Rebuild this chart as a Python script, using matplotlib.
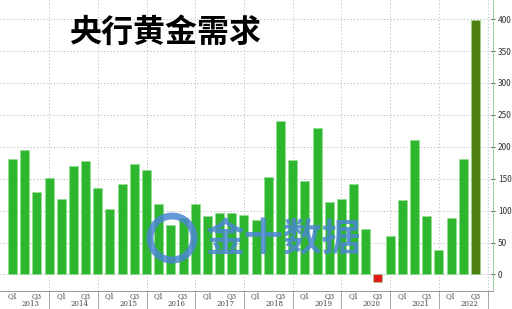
import matplotlib
matplotlib.use("Agg")
import matplotlib.pyplot as plt
import matplotlib.transforms as mtransforms
from matplotlib.patches import Ellipse
import numpy as np

plt.rcParams['font.family'] = ['Noto Sans CJK SC', 'DejaVu Sans']

# quarterly central bank gold demand (tonnes), 2013 Q1 .. 2022 Q3
years = ['2013', '2014', '2015', '2016', '2017', '2018', '2019', '2020', '2021', '2022']
demand = [181, 195, 129, 151,
          119, 170, 178, 136,
          103, 142, 173, 163,
          110, 78, 89, 110,
          91, 96, 96, 93,
          85, 153, 241, 179,
          146, 229, 114, 118,
          141, 72, -12, 61,
          116, 211, 91, 38,
          89, 181, 399]
y_ticks = [0, 50, 100, 150, 200, 250, 300, 350, 400]

green = '#2fb62f'
dark_green = '#4e7d10'
red = '#e21a1a'

x = np.arange(len(demand))
colors = []
for i, v in enumerate(demand):
    if v < 0:
        colors.append(red)
    elif i == len(demand) - 1:
        colors.append(dark_green)
    else:
        colors.append(green)

fig = plt.figure(figsize=(5.12, 3.09), dpi=100)
ax = fig.add_axes([0.0, 0.058, 0.963, 0.942])

ax.bar(x, demand, width=0.74, color=colors, edgecolor='#8fe08f', linewidth=0.4, zorder=3)

ax.set_xlim(-1.03, 39.45)
ax.set_ylim(-26, 430)

# y axis on the right
ax.yaxis.tick_right()
ax.set_yticks(y_ticks)
ax.tick_params(axis='y', labelsize=6, colors='#333333', length=3, width=0.6,
               pad=2, direction='inout')
for t in ax.yaxis.get_ticklines():
    t.set_color('#6fbf6f')
ax.grid(axis='y', linestyle=(0, (1.5, 2.5)), color='#b0b0b0', linewidth=0.6, zorder=0)

# year separators as vertical grid lines
sep = [i * 4 + 3 for i in range(len(years))]
for s in sep:
    ax.axvline(s, linestyle=(0, (1.5, 2.5)), color='#b8b8b8', linewidth=0.6, zorder=0)

# quarter labels
qpos, qlab = [], []
for i in range(len(years)):
    for q in (0, 2):
        if i * 4 + q < len(demand):
            qpos.append(i * 4 + q)
            qlab.append('Q%d' % (q + 1))
ax.set_xticks(qpos)
ax.set_xticklabels(qlab, fontsize=5, color='#444444', family='DejaVu Serif')
ax.tick_params(axis='x', length=0, pad=1)

trans = mtransforms.blended_transform_factory(ax.transData, ax.transAxes)
for i, yr in enumerate(years):
    ax.text(i * 4 + 1.5, -0.031, yr, transform=trans, ha='center', va='top',
            fontsize=5, color='#444444', family='DejaVu Serif')
for s in sep:
    ax.plot([s, s], [0, -0.07], transform=trans, color='#999999', linewidth=0.6, clip_on=False)

for side in ('top', 'left'):
    ax.spines[side].set_visible(False)
ax.spines['right'].set_color('#9fd09f')
ax.spines['right'].set_linewidth(0.7)
ax.spines['bottom'].set_color('#888888')
ax.spines['bottom'].set_linewidth(0.6)

# title
fig.text(165 / 512, 1 - 33 / 309, '央行黄金需求', ha='center', va='center',
         fontsize=23, fontweight='bold', color='black')

# watermark
fig.text(283 / 512, 1 - 240 / 309, '金十数据', ha='center', va='center',
         fontsize=28, fontweight='bold', color='#4a86d0', alpha=0.85, zorder=5)
ring = Ellipse((172 / 512, 1 - 238 / 309), 44 / 512, 44 / 309, transform=fig.transFigure,
               fill=False, edgecolor='#4a86d0', linewidth=5, alpha=0.85, zorder=5)
fig.add_artist(ring)

fig.savefig('out.png', dpi=100)
